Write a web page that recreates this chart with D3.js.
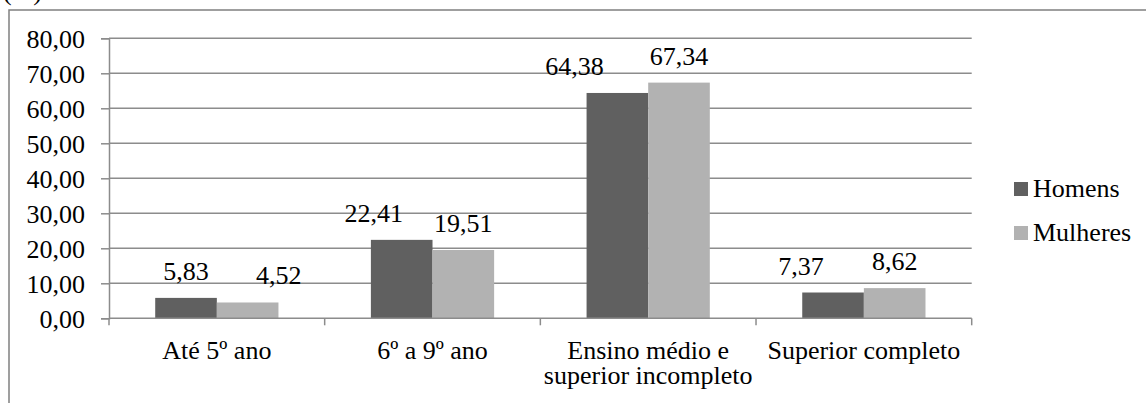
<!DOCTYPE html>
<html>
<head>
<meta charset="utf-8">
<script src="https://cdn.jsdelivr.net/npm/d3@7"></script>
</head>
<body style="margin:0">
<svg id="escolaridade" width="1146" height="403" style="font-family: 'Liberation Serif'"></svg>
<script>
// Escolaridade por sexo (%)
const categories = ["Até 5º ano", "6º a 9º ano", "Ensino médio e\nsuperior incompleto", "Superior completo"];
const seriesNames = ["Homens", "Mulheres"];
const homens = [5.83, 22.41, 64.38, 7.37];
const mulheres = [4.52, 19.51, 67.34, 8.62];
const yTicks = [0, 10, 20, 30, 40, 50, 60, 70, 80];

// horizontal shift of individual value labels (px), per series
const labelShift = [[0, -28, -43, -32], [31, 0, 0, 0]];

const colors = ["#606060", "#b2b2b2"];
const gridColor = "#8c8c8c";
const fontSize = 26;

const svg = d3.select("#escolaridade");
const fmt = v => v.toFixed(2).replace(".", ",");

const plot = { left: 109, right: 971.7, top: 38.3, bottom: 318.3 };

const x0 = d3.scaleBand()
  .domain(d3.range(categories.length))
  .range([plot.left, plot.right])
  .paddingInner(0).paddingOuter(0);

// gap width of 150% between clusters
const x1 = d3.scaleBand()
  .domain(d3.range(seriesNames.length))
  .range([0, x0.bandwidth()])
  .paddingInner(0)
  .paddingOuter(0.75);

const y = d3.scaleLinear().domain([0, 80]).range([plot.bottom, plot.top]);

function txt(sel) {
  return sel
    .attr("font-size", fontSize)
    .attr("fill", "#000")
    .style("font-family", d => '"Liberation Serif"');
}

// outer frame
svg.append("rect")
  .attr("x", 9).attr("y", 10)
  .attr("width", 1146).attr("height", 410)
  .attr("fill", "none").attr("stroke", "#808080").attr("stroke-width", 1.5);

svg.append("text")
  .attr("x", 3).attr("y", 0)
  .call(txt)
  .text("(%)");

// gridlines
svg.append("g").selectAll("line")
  .data(yTicks.filter(t => t > 0))
  .join("line")
  .attr("x1", plot.left).attr("x2", plot.right)
  .attr("y1", d => y(d)).attr("y2", d => y(d))
  .attr("stroke", gridColor).attr("stroke-width", 1.5);

// y axis
const yAxis = d3.axisLeft(y).tickValues(yTicks).tickSize(8).tickPadding(16).tickFormat(fmt);
const gy = svg.append("g").attr("transform", `translate(${plot.left},0)`).call(yAxis);
gy.attr("font-family", null).attr("font-size", null);
gy.select(".domain").attr("stroke", gridColor).attr("stroke-width", 1.5);
gy.selectAll(".tick line").attr("stroke", gridColor).attr("stroke-width", 1.5);
gy.selectAll(".tick text").call(txt).attr("dy", "0.34em");

// bars
const series = [homens, mulheres];
const groups = svg.append("g").selectAll("g")
  .data(series)
  .join("g")
  .attr("fill", (d, i) => colors[i]);

groups.selectAll("rect")
  .data((d, si) => d.map((v, ci) => ({ v, ci, si })))
  .join("rect")
  .attr("x", d => x0(d.ci) + x1(d.si))
  .attr("width", x1.bandwidth())
  .attr("y", d => y(d.v))
  .attr("height", d => y(0) - y(d.v));

// value labels
svg.append("g").selectAll("text")
  .data(series.flatMap((d, si) => d.map((v, ci) => ({ v, ci, si }))))
  .join("text")
  .attr("x", d => x0(d.ci) + x1(d.si) + x1.bandwidth() / 2 + labelShift[d.si][d.ci])
  .attr("y", d => y(d.v) - 18)
  .attr("text-anchor", "middle")
  .call(txt)
  .text(d => fmt(d.v));

// x axis with ticks between categories
const gx = svg.append("g");
gx.append("line")
  .attr("x1", plot.left).attr("x2", plot.right)
  .attr("y1", plot.bottom).attr("y2", plot.bottom)
  .attr("stroke", gridColor).attr("stroke-width", 1.5);
gx.selectAll("line.tk")
  .data(d3.range(categories.length + 1))
  .join("line")
  .attr("class", "tk")
  .attr("x1", i => i < categories.length ? x0(i) : plot.right)
  .attr("x2", i => i < categories.length ? x0(i) : plot.right)
  .attr("y1", plot.bottom).attr("y2", plot.bottom + 7)
  .attr("stroke", gridColor).attr("stroke-width", 1.5);

const catLabels = svg.append("g").selectAll("text")
  .data(categories)
  .join("text")
  .attr("x", (d, i) => x0(i) + x0.bandwidth() / 2)
  .attr("y", 359)
  .attr("text-anchor", "middle")
  .call(txt);
catLabels.each(function(d) {
  const t = d3.select(this);
  d.split("\n").forEach((line, k) => {
    t.append("tspan")
      .attr("x", t.attr("x"))
      .attr("dy", k === 0 ? 0 : 25)
      .text(line);
  });
});

// legend
const legend = svg.append("g").selectAll("g")
  .data(seriesNames)
  .join("g")
  .attr("transform", (d, i) => `translate(1014,${182 + i * 44})`);
legend.append("rect")
  .attr("width", 14).attr("height", 14)
  .attr("fill", (d, i) => colors[i]);
legend.append("text")
  .attr("x", 19).attr("y", 15)
  .call(txt)
  .text(d => d);
</script>
</body>
</html>
